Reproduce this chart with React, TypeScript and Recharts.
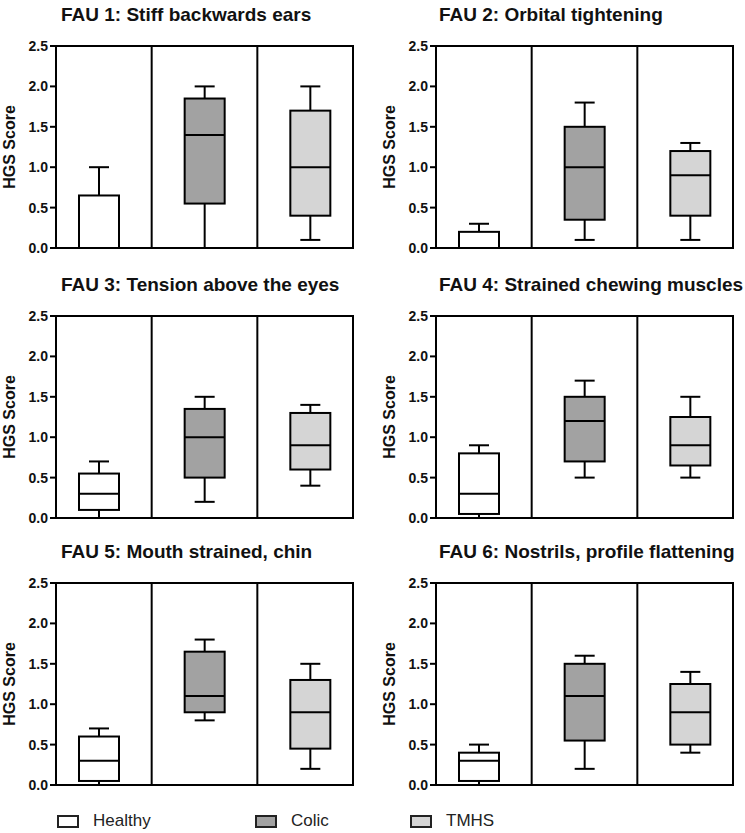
import React from "react";
import {
  ComposedChart,
  Bar,
  XAxis,
  YAxis,
  ReferenceLine,
  ReferenceArea,
} from "recharts";

const groups = ["Healthy", "Colic", "TMHS"];
const groupFills = ["#ffffff", "#a2a2a2", "#d5d5d5"];
const groupPos = [0.5, 1.5, 2.5];
const yTicks = [0, 0.5, 1, 1.5, 2, 2.5];

const titles = [
  "FAU 1: Stiff backwards ears",
  "FAU 2: Orbital tightening",
  "FAU 3: Tension above the eyes",
  "FAU 4: Strained chewing muscles",
  "FAU 5: Mouth strained, chin",
  "FAU 6: Nostrils, profile flattening",
];

// each entry: [min, q1, median, q3, max] for Healthy, Colic, TMHS
const fau1 = [
  [0, 0, 0, 0.65, 1.0],
  [0, 0.55, 1.4, 1.85, 2.0],
  [0.1, 0.4, 1.0, 1.7, 2.0],
];
const fau2 = [
  [0, 0, 0, 0.2, 0.3],
  [0.1, 0.35, 1.0, 1.5, 1.8],
  [0.1, 0.4, 0.9, 1.2, 1.3],
];
const fau3 = [
  [0, 0.1, 0.3, 0.55, 0.7],
  [0.2, 0.5, 1.0, 1.35, 1.5],
  [0.4, 0.6, 0.9, 1.3, 1.4],
];
const fau4 = [
  [0, 0.05, 0.3, 0.8, 0.9],
  [0.5, 0.7, 1.2, 1.5, 1.7],
  [0.5, 0.65, 0.9, 1.25, 1.5],
];
const fau5 = [
  [0, 0.05, 0.3, 0.6, 0.7],
  [0.8, 0.9, 1.1, 1.65, 1.8],
  [0.2, 0.45, 0.9, 1.3, 1.5],
];
const fau6 = [
  [0, 0.05, 0.3, 0.4, 0.5],
  [0.2, 0.55, 1.1, 1.5, 1.6],
  [0.4, 0.5, 0.9, 1.25, 1.4],
];
const faus = [fau1, fau2, fau3, fau4, fau5, fau6];

const FONT = '"Liberation Sans", Arial, Helvetica, sans-serif';
const plotLefts = [56, 436];
const plotTops = [46, 316, 583];
const PLOT_W = 297;
const PLOT_H = 202;
const PAD = 12;
// groups sit a little wider apart than equal thirds of the frame
const spread = { left: -10, right: -10 };

// draws whiskers, box and median from the bar's [min, max] range
const BoxShape = (props: any) => {
  const { x, y, width, height, payload } = props;
  const [min, q1, med, q3, max] = payload.stats;
  const py = (v: number) => y + (height * (max - v)) / (max - min);
  const cx = x + width / 2;
  const cap = width / 4;
  return (
    <g stroke="#000" strokeWidth={2}>
      <line x1={cx} x2={cx} y1={py(max)} y2={py(q3)} />
      <line x1={cx} x2={cx} y1={py(q1)} y2={py(min)} />
      <line x1={cx - cap} x2={cx + cap} y1={py(max)} y2={py(max)} />
      <line x1={cx - cap} x2={cx + cap} y1={py(min)} y2={py(min)} />
      <rect
        x={x}
        y={py(q3)}
        width={width}
        height={Math.max(py(q1) - py(q3), 1)}
        fill={payload.fill}
      />
      <line x1={x} x2={x + width} y1={py(med)} y2={py(med)} />
    </g>
  );
};

const Panel = ({ idx }: { idx: number }) => {
  const col = idx % 2;
  const row = Math.floor(idx / 2);
  const left = plotLefts[col];
  const top = plotTops[row];
  const data = groups.map((g, i) => ({
    group: g,
    pos: groupPos[i],
    range: [faus[idx][i][0], faus[idx][i][4]],
    stats: faus[idx][i],
    fill: groupFills[i],
  }));

  return (
    <>
      <div
        style={{
          position: "absolute",
          left: left + (col ? 3 : 5),
          top: top - 42,
          fontFamily: FONT,
          fontWeight: 700,
          fontSize: 19,
          lineHeight: "22px",
          whiteSpace: "nowrap",
          color: "#111",
        }}
      >
        {titles[idx]}
      </div>
      <div
        style={{
          position: "absolute",
          left: left - 46,
          top: top + PLOT_H / 2,
          transform: "translate(-50%, -50%) rotate(-90deg)",
          fontFamily: FONT,
          fontWeight: 700,
          fontSize: 16,
          whiteSpace: "nowrap",
          color: "#111",
        }}
      >
        HGS Score
      </div>
      <div style={{ position: "absolute", left: left - 56, top: top - PAD }}>
        <ComposedChart
          width={56 + PLOT_W + 8}
          height={PAD + PLOT_H + PAD}
          data={data}
          margin={{ top: PAD, right: 8, bottom: PAD - 4, left: 0 }}
        >
          <XAxis
            dataKey="group"
            tick={false}
            tickLine={false}
            height={4}
            padding={spread}
            axisLine={{ stroke: "#000", strokeWidth: 2 }}
          />
          <XAxis
            xAxisId="frame"
            dataKey="pos"
            type="number"
            domain={[0, 3]}
            allowDataOverflow
            hide
          />
          <XAxis
            xAxisId="sep"
            dataKey="pos"
            type="number"
            domain={[0, 3]}
            allowDataOverflow
            padding={spread}
            hide
          />
          <YAxis
            type="number"
            domain={[0, 2.5]}
            ticks={yTicks}
            interval={0}
            width={56}
            tickSize={6}
            tickFormatter={(v: number) => v.toFixed(1)}
            tick={{ fill: "#111", fontSize: 14, fontWeight: 700, fontFamily: FONT }}
            tickLine={{ stroke: "#000", strokeWidth: 2 }}
            axisLine={{ stroke: "#000", strokeWidth: 2 }}
          />
          <ReferenceArea
            xAxisId="frame"
            x1={0}
            x2={3}
            y1={0}
            y2={2.5}
            fill="none"
            fillOpacity={0}
            stroke="#000"
            strokeWidth={2}
            ifOverflow="visible"
          />
          <ReferenceLine xAxisId="sep" x={1} stroke="#000" strokeWidth={2} />
          <ReferenceLine xAxisId="sep" x={2} stroke="#000" strokeWidth={2} />
          <Bar
            dataKey="range"
            barSize={40}
            shape={BoxShape}
            isAnimationActive={false}
          />
        </ComposedChart>
      </div>
    </>
  );
};

const legendX = [57, 255, 410];

export default function App() {
  return (
    <div
      style={{
        position: "absolute",
        left: 0,
        top: 0,
        width: 745,
        height: 833,
        background: "#fff",
        overflow: "hidden",
      }}
    >
      {titles.map((_, i) => (
        <Panel key={i} idx={i} />
      ))}
      {groups.map((g, i) => (
        <div
          key={g}
          style={{
            position: "absolute",
            left: legendX[i],
            top: 811,
            display: "flex",
            alignItems: "center",
            fontFamily: FONT,
            fontSize: 17,
            color: "#222",
          }}
        >
          <div
            style={{
              width: 18,
              height: 9,
              border: "2px solid #222",
              background: groupFills[i],
              marginRight: 14,
            }}
          />
          <span>{g}</span>
        </div>
      ))}
    </div>
  );
}
